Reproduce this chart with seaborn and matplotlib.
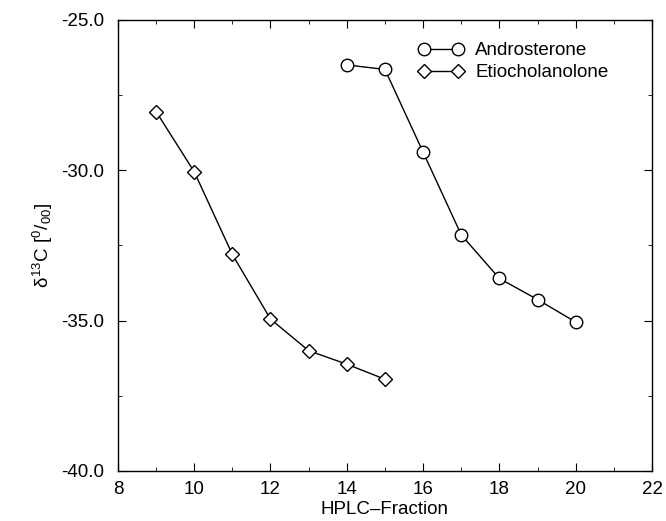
import numpy as np
import seaborn as sns
import pandas as pd
import matplotlib.pyplot as plt
from matplotlib.ticker import MultipleLocator, FormatStrFormatter

# data
andro_x = [14, 15, 16, 17, 18, 19, 20]
andro_y = [-26.5, -26.65, -29.4, -32.15, -33.6, -34.3, -35.05]
etio_x = [9, 10, 11, 12, 13, 14, 15]
etio_y = [-28.05, -30.05, -32.8, -34.95, -36.0, -36.45, -36.95]

sns.set_style("ticks")
plt.rcParams['font.family'] = ['Liberation Sans', 'DejaVu Sans']
plt.rcParams['mathtext.fontset'] = 'custom'
plt.rcParams['mathtext.rm'] = 'Liberation Sans'
plt.rcParams['mathtext.it'] = 'Liberation Sans'
plt.rcParams['text.color'] = 'black'
plt.rcParams['axes.labelcolor'] = 'black'
plt.rcParams['xtick.color'] = 'black'
plt.rcParams['ytick.color'] = 'black'

df_a = pd.DataFrame({"x": andro_x, "y": andro_y})
df_e = pd.DataFrame({"x": etio_x, "y": etio_y})

fig = plt.figure(figsize=(6.66, 5.21), dpi=100)
ax = fig.add_axes([0.177, 0.096, 0.802, 0.866])

sns.lineplot(data=df_a, x="x", y="y", ax=ax, color="black", lw=1,
             marker="o", ms=9, mfc="white", mec="black", mew=1,
             label="Androsterone")
sns.lineplot(data=df_e, x="x", y="y", ax=ax, color="black", lw=1,
             marker="D", ms=7, mfc="white", mec="black", mew=1,
             label="Etiocholanolone")

ax.set_xlim(8, 22)
ax.set_ylim(-40, -25)
ax.xaxis.set_major_locator(MultipleLocator(2))
ax.xaxis.set_minor_locator(MultipleLocator(1))
ax.yaxis.set_major_locator(MultipleLocator(5))
ax.yaxis.set_minor_locator(MultipleLocator(2.5))
ax.yaxis.set_major_formatter(FormatStrFormatter('%.1f'))
ax.tick_params(which='both', direction='in', top=True, right=True, labelsize=13.5)
ax.tick_params(which='major', length=6)
ax.tick_params(which='minor', length=3)
ax.tick_params(axis='y', pad=10)
ax.tick_params(axis='x', pad=7)
for s in ax.spines.values():
    s.set_linewidth(1)
    s.set_color('black')

ax.set_xlabel("HPLC\u2013Fraction", fontsize=13.5, labelpad=2.5)
ax.set_ylabel(r"$\delta^{13}$C [$^{0}$/$_{00}$]", fontsize=13.5)

ax.legend(loc="upper left", bbox_to_anchor=(0.562, 0.95), frameon=False,
          numpoints=2, fontsize=13.5, handlelength=2.45, handletextpad=0.6,
          borderaxespad=0, borderpad=0, labelspacing=0.25)

fig.savefig("out.png", dpi=100)
